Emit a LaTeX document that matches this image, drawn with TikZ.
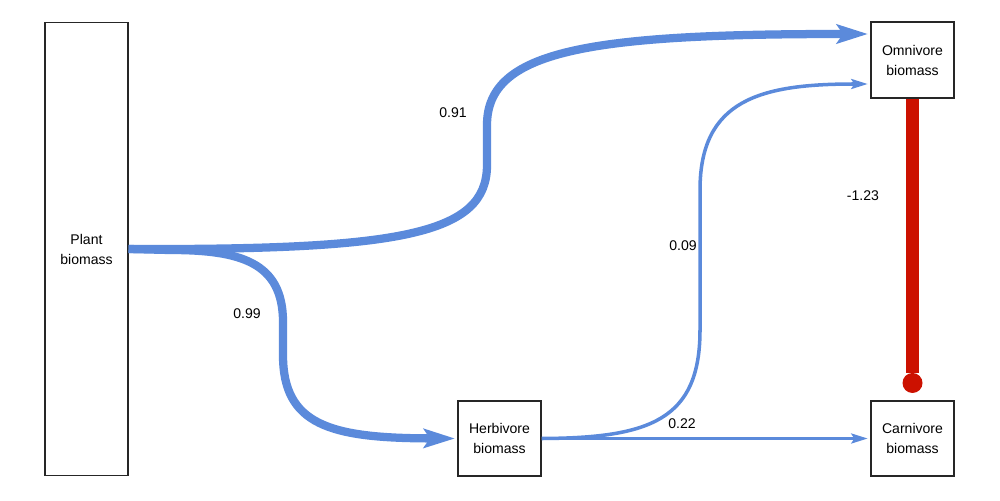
\documentclass[tikz,border=0pt]{standalone}
\usepackage{fontspec}
\setmainfont{Liberation Sans}
\usetikzlibrary{arrows.meta,calc}
\definecolor{flowblue}{RGB}{91,138,219}
\definecolor{negred}{RGB}{204,17,0}
\begin{document}
\begin{tikzpicture}[x=0.02cm,y=-0.02cm,%
% common options for the boxes:
box/.style = {draw=black!85, line width=0.6pt, fill=white, align=center,
            minimum width=1.66cm, minimum height=1.52cm, inner sep=0,
            font=\fontsize{8}{11.4}\selectfont},
% common options for the weights:
weight/.style = {inner sep=0, font=\fontsize{8}{10}\selectfont},
% common options for the links:
strong/.style = {draw=flowblue, line width=4.7pt, shorten >=1.7pt,
            -{Stealth[length=18pt,width=11.5pt,inset=4pt,line width=0pt]}},
weak/.style = {draw=flowblue, line width=2pt, shorten >=1.7pt,
            -{Stealth[length=9.5pt,width=6pt,inset=2pt,line width=0pt]}}]
\useasboundingbox (0,0) rectangle (1000,500);
\node[box,minimum height=9.08cm] (plant) at (86.5,249) {Plant\\biomass};
\node[box] (omni) at (912.5,60) {Omnivore\\biomass};
\node[box,minimum height=1.5cm] (herb) at (499.5,438.5) {Herbivore\\biomass};
\node[box,minimum height=1.5cm] (carn) at (912.5,438.5) {Carnivore\\biomass};
\draw[strong] (plant.east) .. controls (400,250) and (487,235) .. (487,165)
    -- (487,125) .. controls (487,50) and (590,34) .. ($(omni.west)+(0,-26)$);
\draw[strong] (plant.east) -- (170,250) .. controls (240,250) and (283,262) .. (283,322)
    -- (283,355) .. controls (283,425) and (330,438) .. (herb.west);
\draw[weak] (herb.east) .. controls (650,438) and (700,420) .. (700,330)
    -- (700,190) .. controls (700,100) and (760,84) .. ($(omni.west)+(0,24)$);
\draw[weak] (herb.east) -- (carn.west);
\draw[negred, line width=7.4pt, shorten >=0.15cm,
    -{Circle[length=0.4cm,line width=0pt]}] (omni.south) -- (carn.north);
\node[weight] (w091) at (453,113) {0.91};
\node[weight] (w099) at (247,314) {0.99};
\node[weight] (w009) at (683,246) {0.09};
\node[weight] (w022) at (682,424) {0.22};
\node[weight] (w123) at (863,196) {-1.23};
\end{tikzpicture}
\end{document}
